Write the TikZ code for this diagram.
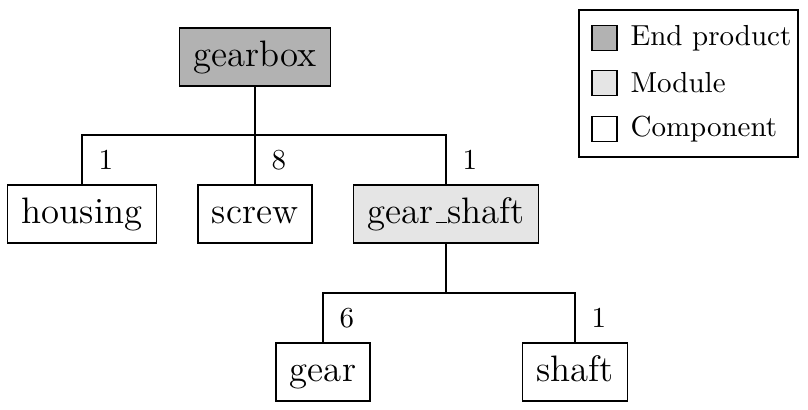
\documentclass[tikz,border=0pt]{standalone}
\usepackage{tikz}
\usetikzlibrary{positioning}

\newcommand{\us}{\leavevmode\kern.06em\vbox{\hrule width.3em}}

\begin{document}
\begin{tikzpicture}[x=0.345pt, y=-0.345pt, thin,
    main/.style = {draw, rectangle, font=\fontsize{12.7}{15}\selectfont,
      inner xsep=4.8pt, inner ysep=4pt, minimum height=20pt,
      text height=9pt, text depth=2.6pt},
    top/.style = {main, fill=black!30},
    module/.style = {main, fill=black!10},
    key/.style = {draw, minimum size=8.6pt, inner sep=0pt},
    num/.style = {right, inner sep=2pt, xshift=3.5pt}]

    \useasboundingbox (0,0) rectangle (808,410);

    \node[top] (1) at (255,57) {gearbox};
    \node[main] (2) at (82,214) {housing};
    \node[main] (3) at (255,214) {screw};
    \node[module] (4) at (446,214) {gear\us shaft};
    \node[main] (5) at (323,372) {gear};
    \node[main] (6) at (575,372) {shaft};

    \coordinate (j1) at (255,135);
    \coordinate (j2) at (446,293);

    \draw (1) -- (j1);
    \draw (j1) -| (2) node[pos=0.75, num] {1};
    \draw (j1) -- (3) node[midway, num] {8};
    \draw (j1) -| (4) node[pos=0.75, num] {1};
    \draw (4) -- (j2);
    \draw (j2) -| (5) node[pos=0.75, num] {6};
    \draw (j2) -| (6) node[pos=0.75, num] {1};

    % legend
    \draw (579,10) rectangle (798,157);
    \node[key, fill=black!30] (k1) at (604.5,38) {};
    \node[key, fill=black!10] (k2) at (604.5,83) {};
    \node[key] (k3) at (604.5,129) {};
    \node[right=4.3pt of k1, inner sep=0pt] (t1) {End product};
    \node[right=4.3pt of k2, inner sep=0pt] (t2) {Module};
    \node[right=4.3pt of k3, inner sep=0pt] (t3) {Component};

\end{tikzpicture}
\end{document}
